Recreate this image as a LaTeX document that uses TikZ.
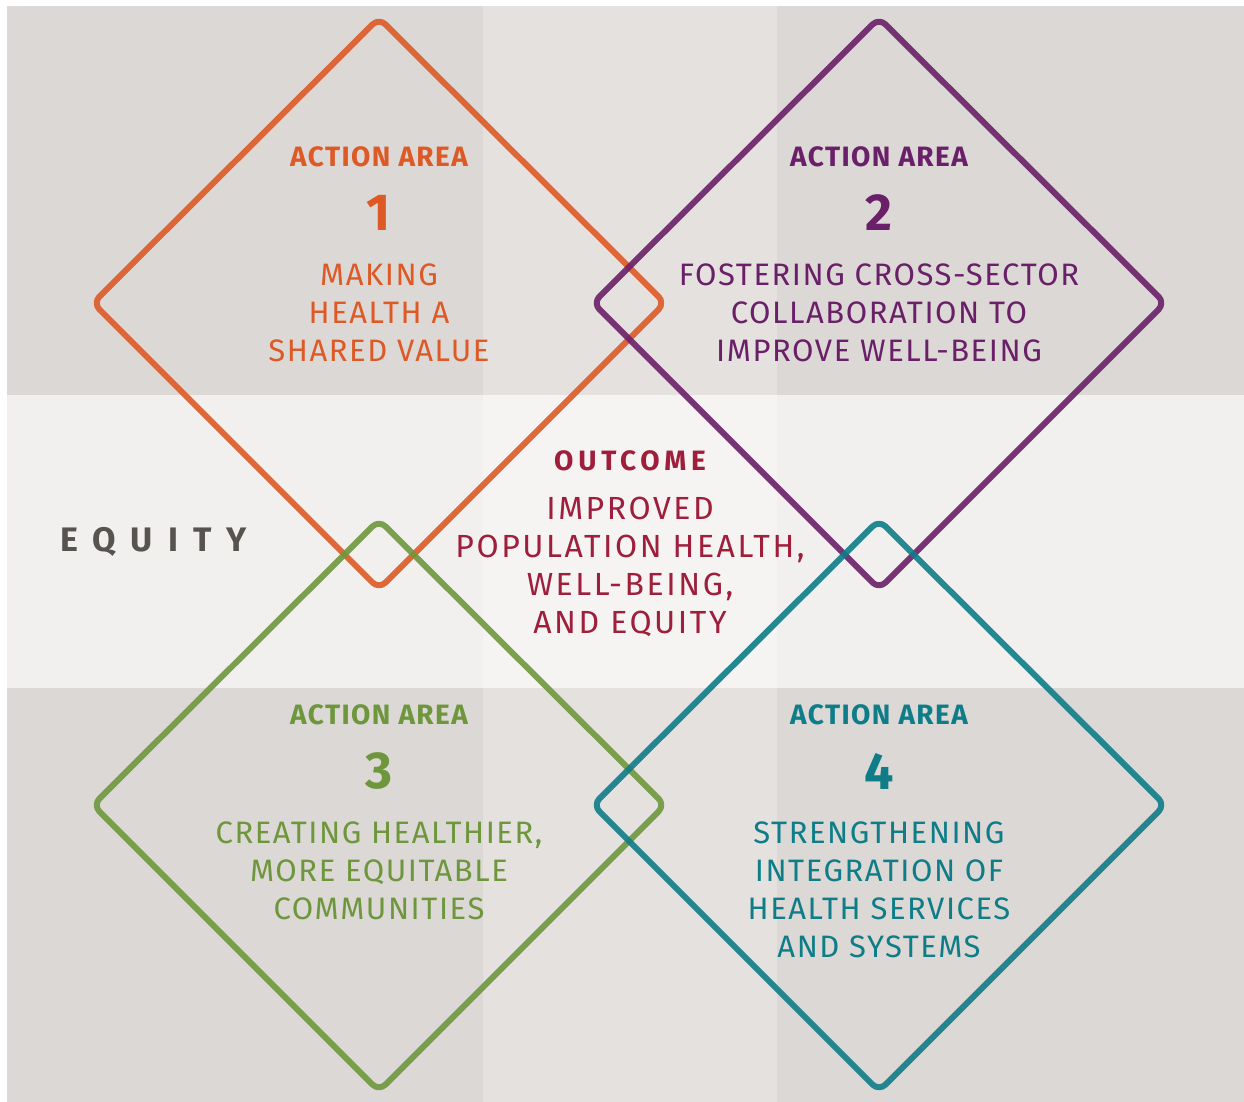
\documentclass[tikz,border=0pt]{standalone}
\usepackage{fontspec}
\setmainfont{Fira Sans}
\definecolor{bgdark}{HTML}{DCD8D5}
\definecolor{bgmid}{HTML}{E5E1DE}
\definecolor{bglight}{HTML}{F2F0EE}
\definecolor{bglightc}{HTML}{F5F4F2}
\definecolor{cOrange}{HTML}{DD5A26}
\definecolor{cPurple}{HTML}{6A2068}
\definecolor{cGreen}{HTML}{6E973D}
\definecolor{cTeal}{HTML}{0E7D88}
\definecolor{cRed}{HTML}{9E1E3B}
\definecolor{cGray}{HTML}{57534E}
\tikzset{
  dia/.style={line width=6pt, rounded corners=9pt, line join=round, opacity=0.9},
  head/.style={font=\fontsize{28}{30}\selectfont\bfseries\addfontfeature{LetterSpace=5}, inner sep=0pt, anchor=center},
  numb/.style={font=\fontsize{52}{55}\selectfont\bfseries, inner sep=0pt, anchor=center},
  body/.style={font=\fontsize{31}{38}\selectfont\addfontfeature{LetterSpace=5}, align=center, inner sep=0pt, anchor=north},
}
\begin{document}
\begin{tikzpicture}[x=1pt,y=-1pt]
\useasboundingbox (0,0) rectangle (1244,1102);
\fill[white] (0,0) rectangle (1244,1102);
% background panels
\fill[bgdark] (7,6) rectangle (1244,395);
\fill[bgdark] (7,688) rectangle (1244,1102);
\fill[bgmid] (483,6) rectangle (777,395);
\fill[bgmid] (483,688) rectangle (777,1102);
\fill[bglight] (7,395) rectangle (1244,688);
\fill[bglightc] (483,395) rectangle (777,688);
% diamonds
\draw[dia, cOrange] (379,18) -- (665,303) -- (379,589) -- (93,303) -- cycle;
\draw[dia, cPurple] (879,18) -- (1165,303) -- (879,589) -- (593,303) -- cycle;
\draw[dia, cGreen] (379,520) -- (665,805) -- (379,1091) -- (93,805) -- cycle;
\draw[dia, cTeal] (879,520) -- (1165,805) -- (879,1091) -- (593,805) -- cycle;
% area 1
\node[head, text=cOrange] (h1) at (379,157) {ACTION AREA};
\node[numb, text=cOrange] (n1) at (379,213) {1};
\node[body, text=cOrange] (b1) at (379,264) {MAKING\\HEALTH A\\SHARED VALUE};
% area 2
\node[head, text=cPurple] (h2) at (879,157) {ACTION AREA};
\node[numb, text=cPurple] (n2) at (879,213) {2};
\node[body, text=cPurple] (b2) at (879,264) {FOSTERING CROSS-SECTOR\\COLLABORATION TO\\IMPROVE WELL-BEING};
% area 3
\node[head, text=cGreen] (h3) at (379,715) {ACTION AREA};
\node[numb, text=cGreen] (n3) at (379,771) {3};
\node[body, text=cGreen] (b3) at (379,822) {CREATING HEALTHIER,\\MORE EQUITABLE\\COMMUNITIES};
% area 4
\node[head, text=cTeal] (h4) at (879,715) {ACTION AREA};
\node[numb, text=cTeal] (n4) at (879,771) {4};
\node[body, text=cTeal] (b4) at (879,822) {STRENGTHENING\\INTEGRATION OF\\HEALTH SERVICES\\AND SYSTEMS};
% outcome
\node[font=\fontsize{28}{30}\selectfont\bfseries\addfontfeature{LetterSpace=17}, text=cRed, inner sep=0pt] (oh) at (630,461) {OUTCOME};
\node[body, font=\fontsize{32}{38}\selectfont\addfontfeature{LetterSpace=8}, text=cRed] (ob) at (630,497) {IMPROVED\\POPULATION HEALTH,\\WELL-BEING,\\AND EQUITY};
% equity
\node[font=\fontsize{34}{36}\selectfont\bfseries\addfontfeature{LetterSpace=44}, text=cGray, inner sep=0pt, anchor=west] (eq) at (60,542) {EQUITY};
\end{tikzpicture}
\end{document}
